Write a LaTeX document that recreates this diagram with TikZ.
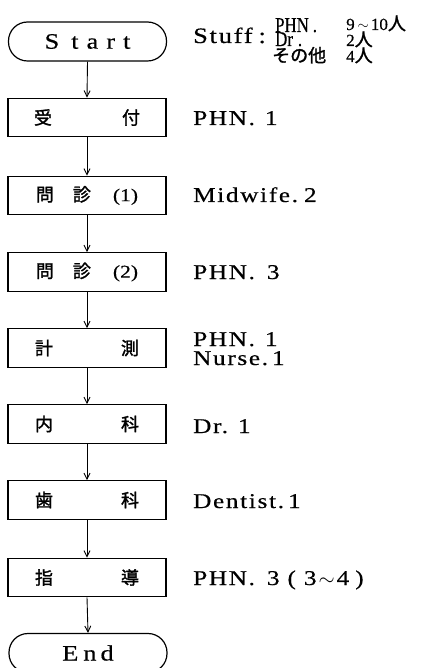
\documentclass[tikz,border=0pt]{standalone}
\usepackage{fontspec}
\setmainfont{Liberation Serif}
\newfontfamily\wserif[FakeStretch=1.2,FakeBold=0.5,LetterSpace=8]{Liberation Serif}
\newfontfamily\tserif[FakeStretch=1.2,FakeBold=0.5]{Liberation Serif}
\newfontfamily\nserif[FakeStretch=0.8,FakeBold=0.5]{Liberation Serif}
\newfontfamily\rserif[FakeBold=0.5]{Liberation Serif}
\newfontfamily\jp[FakeBold=1.5]{Noto Sans CJK JP}
\usetikzlibrary{arrows.meta}
\begin{document}
\begin{tikzpicture}[x=1pt,y=-1pt,
  procbox/.style={draw,line width=1.3pt,minimum width=158pt,minimum height=38.5pt,inner sep=0pt,font=\jp\fontsize{18}{18}\selectfont},
  termbox/.style={draw,line width=1.2pt,rounded corners=19pt,minimum width=158pt,minimum height=39pt,inner sep=0pt,font=\tserif\fontsize{22}{20}\selectfont},
  lbl/.style={anchor=base west,inner sep=0pt,font=\wserif\fontsize{21}{16}\selectfont},
  small/.style={anchor=base west,inner sep=0pt,font=\nserif\fontsize{21}{13}\selectfont},
  val/.style={anchor=base west,inner sep=0pt,font=\rserif\fontsize{17}{13}\selectfont},
  arr/.style={-{Straight Barb[length=6pt,width=6pt]},line width=0.9pt}]
\useasboundingbox (0,0) rectangle (422,668);
\node[termbox] (start) at (87.5,41.5) {S\hspace{12pt}t\hspace{8pt}a\hspace{8pt}r\hspace{8pt}t\hspace{6pt}};
\node[procbox] (n1) at (87,117.5) {受\hspace{70pt}付};
\node[procbox] (n2) at (87,195.5) {問\hspace{19pt}診\hspace{22pt}{\tserif\fontsize{18}{18}\selectfont(1)}};
\node[procbox] (n3) at (87,272) {問\hspace{19pt}診\hspace{22pt}{\tserif\fontsize{18}{18}\selectfont(2)}};
\node[procbox] (n4) at (87,348) {計\hspace{68pt}測};
\node[procbox] (n5) at (87,424) {内\hspace{68pt}科};
\node[procbox] (n6) at (87,500) {歯\hspace{68pt}科};
\node[procbox] (n7) at (87,577.5) {指\hspace{68pt}導};
\node[termbox] (end) at (88,653) {E\hspace{5pt}n\hspace{4pt}d};
\foreach \a/\b in {start/n1,n1/n2,n2/n3,n3/n4,n4/n5,n5/n6,n6/n7,n7/end}
  \draw[arr] (\a.south) -- (\b.north);
% staff summary
\node[lbl,font=\wserif\fontsize{22}{16}\selectfont] (s0) at (193,43) {Stuff\hspace{6pt}:};
\node[small] (s1) at (275,32) {PHN\hspace{4pt}.};
\node[small] (s2) at (275,46) {Dr\hspace{5pt}.};
\node[anchor=base west,inner sep=0pt,font=\jp\fontsize{18}{13}\selectfont] (s3) at (272,62) {その他};
\node[val] (v1) at (346,30) {9\hspace{3pt}{\fontsize{15}{12}\selectfont$\sim$}\hspace{2pt}10{\jp\fontsize{18}{13}\selectfont 人}};
\node[val] (v2) at (346,46) {2{\jp\fontsize{18}{13}\selectfont 人}};
\node[val] (v3) at (346,62) {4{\jp\fontsize{18}{13}\selectfont 人}};
% per-step staff
\node[lbl] (l1) at (193,125) {PHN.\hspace{10pt}1};
\node[lbl] (l2) at (193,202) {Midwife.\hspace{6pt}2};
\node[lbl] (l3) at (193,279) {PHN.\hspace{12pt}3};
\node[lbl] (l4a) at (193,346) {PHN.\hspace{10pt}1};
\node[lbl] (l4b) at (193,365) {Nurse.\hspace{4pt}1};
\node[lbl] (l5) at (193,433) {Dr.\hspace{10pt}1};
\node[lbl] (l6) at (193,508) {Dentist.\hspace{4pt}1};
\node[lbl] (l7) at (193,585) {PHN.\hspace{12pt}3\hspace{8pt}(\hspace{8pt}3\hspace{2pt}{\rserif$\sim$}\hspace{2pt}4\hspace{6pt})};
\end{tikzpicture}
\end{document}
